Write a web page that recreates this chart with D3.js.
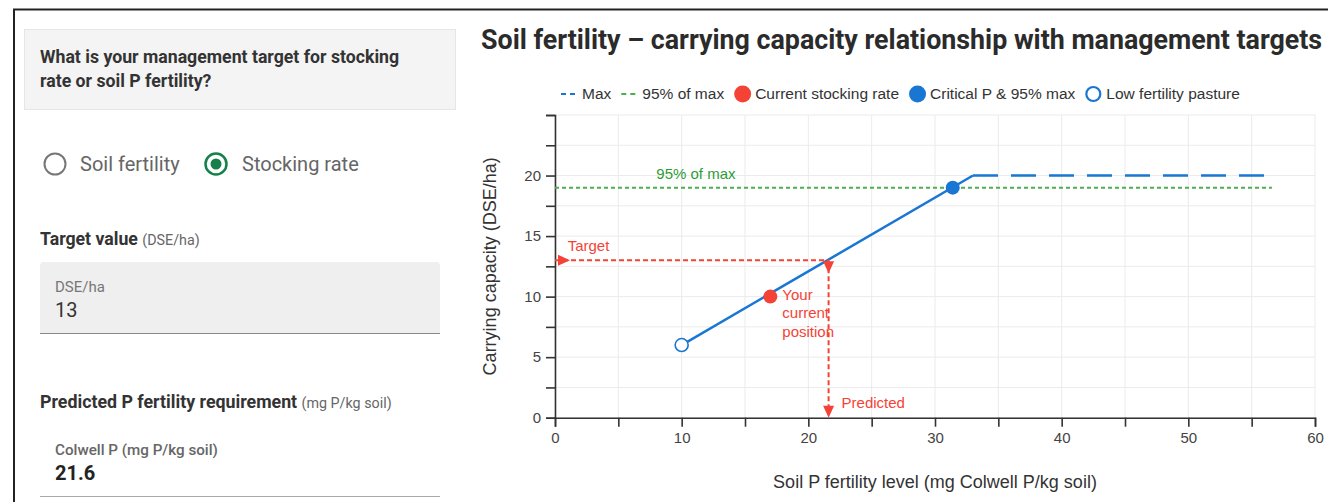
<!DOCTYPE html>
<html>
<head>
<meta charset="utf-8">
<script src="https://cdn.jsdelivr.net/npm/d3@7"></script>
<style>
html, body { margin: 0; padding: 0; background: #fff; }
svg { display: block; }
.ui text { font-family: Roboto, "Noto Sans", sans-serif; }
.chart text { font-family: "Liberation Sans", Arial, sans-serif; }
</style>
</head>
<body>
<svg id="page" width="1328" height="502"></svg>
<script>
// Response curve: Colwell P (mg/kg) vs carrying capacity (DSE/ha)
var responseP = [10, 33];
var responseCap = [6, 20];
var maxP = [33, 56];
var maxCap = [20, 20];
var p95P = [0, 56.6];
var p95Cap = [19, 19];
var currentPoint = [17, 10];
var criticalPoint = [31.4, 19];
var lowFertPoint = [10, 6];
var targetCap = 13;
var predictedP = 21.6;

var xTicks = d3.range(0, 61, 5);
var xLabels = [0, 10, 20, 30, 40, 50, 60];
var yTicks = d3.range(0, 25.1, 2.5);
var yLabels = [0, 5, 10, 15, 20];

var legendNames = ["Max", "95% of max", "Current stocking rate", "Critical P & 95% max", "Low fertility pasture"];
var legendKinds = ["dashBlue", "dashGreen", "dotRed", "dotBlue", "ring"];

var BLUE = "#1976d2", GREEN = "#4caf50", GREEN_TEXT = "#2e9c38", RED = "#f44336";

var svg = d3.select("#page");

// outer card border (top and left edge)
svg.append("path")
    .attr("d", "M14,502 L14,9.5 L1328,9.5")
    .attr("fill", "none").attr("stroke", "#222").attr("stroke-width", 2);

// ---------- left form panel ----------
var ui = svg.append("g").attr("class", "ui");

ui.append("rect")
    .attr("x", 24.5).attr("y", 29.5).attr("width", 431).attr("height", 80)
    .attr("fill", "#f4f4f4").attr("stroke", "#e6e6e6");
ui.append("text").attr("x", 40).attr("y", 63)
    .attr("font-size", 17.7).attr("font-weight", 700).attr("fill", "#333")
    .text("What is your management target for stocking");
ui.append("text").attr("x", 40).attr("y", 87)
    .attr("font-size", 17.7).attr("font-weight", 700).attr("fill", "#333")
    .text("rate or soil P fertility?");

// radio buttons
ui.append("circle").attr("cx", 55).attr("cy", 164).attr("r", 10.5)
    .attr("fill", "#fff").attr("stroke", "#777").attr("stroke-width", 2);
ui.append("text").attr("x", 80).attr("y", 171)
    .attr("font-size", 20).attr("fill", "#666").text("Soil fertility");
ui.append("circle").attr("cx", 216).attr("cy", 164).attr("r", 10.5)
    .attr("fill", "#fff").attr("stroke", "#17804a").attr("stroke-width", 2.5);
ui.append("circle").attr("cx", 216).attr("cy", 164).attr("r", 5.5)
    .attr("fill", "#17804a");
ui.append("text").attr("x", 242).attr("y", 171)
    .attr("font-size", 20).attr("fill", "#666").text("Stocking rate");

// target value field
var tv = ui.append("text").attr("x", 40).attr("y", 245).attr("fill", "#333");
tv.append("tspan").attr("font-size", 17.7).attr("font-weight", 700).text("Target value ");
tv.append("tspan").attr("font-size", 14.3).attr("fill", "#666").text("(DSE/ha)");

ui.append("path")
    .attr("d", "M40,333 L40,266 Q40,262 44,262 L436,262 Q440,262 440,266 L440,333 Z")
    .attr("fill", "#efefef");
ui.append("line").attr("x1", 40).attr("x2", 440).attr("y1", 333.5).attr("y2", 333.5)
    .attr("stroke", "#8a8a8a").attr("stroke-width", 1.2);
ui.append("text").attr("x", 55).attr("y", 292)
    .attr("font-size", 15).attr("fill", "#777").text("DSE/ha");
ui.append("text").attr("x", 55).attr("y", 317)
    .attr("font-size", 20).attr("fill", "#333").text(targetCap);

// predicted requirement field
var pr = ui.append("text").attr("x", 40).attr("y", 408).attr("fill", "#333");
pr.append("tspan").attr("font-size", 17.8).attr("font-weight", 700).text("Predicted P fertility requirement ");
pr.append("tspan").attr("font-size", 14.3).attr("fill", "#666").text("(mg P/kg soil)");

ui.append("text").attr("x", 55).attr("y", 455)
    .attr("font-size", 15.2).attr("font-weight", 500).attr("fill", "#666")
    .text("Colwell P (mg P/kg soil)");
ui.append("text").attr("x", 55).attr("y", 480)
    .attr("font-size", 20).attr("font-weight", 700).attr("fill", "#222").text(predictedP);
ui.append("line").attr("x1", 40).attr("x2", 440).attr("y1", 496.5).attr("y2", 496.5)
    .attr("stroke", "#a8a8a8").attr("stroke-width", 1);

// ---------- chart ----------
svg.append("text")
    .attr("x", 481).attr("y", 49)
    .attr("font-family", "Roboto, 'Noto Sans', sans-serif")
    .attr("font-size", 26.8).attr("font-weight", 700).attr("fill", "#2b2b2b")
    .text("Soil fertility \u2013 carrying capacity relationship with management targets");

var chart = svg.append("g").attr("class", "chart");

var x = d3.scaleLinear().domain([0, 60]).range([555, 1315]);
var y = d3.scaleLinear().domain([0, 25]).range([417.7, 115]);

// gridlines
chart.append("g").selectAll("line").data(xTicks).join("line")
    .attr("x1", function (d) { return x(d); }).attr("x2", function (d) { return x(d); })
    .attr("y1", y(0)).attr("y2", y(25))
    .attr("stroke", "#ebebeb").attr("stroke-width", 1);
chart.append("g").selectAll("line").data(yTicks).join("line")
    .attr("x1", x(0)).attr("x2", x(60))
    .attr("y1", function (d) { return y(d); }).attr("y2", function (d) { return y(d); })
    .attr("stroke", "#ebebeb").attr("stroke-width", 1);

// axes
var xAxis = d3.axisBottom(x).tickValues(xTicks).tickSize(9).tickPadding(6)
    .tickFormat(function (d) { return xLabels.indexOf(d) >= 0 ? d : ""; });
var yAxis = d3.axisLeft(y).tickValues(yTicks).tickSize(9).tickPadding(5)
    .tickFormat(function (d) { return yLabels.indexOf(d) >= 0 ? d : ""; });

var gx = chart.append("g").attr("transform", "translate(0," + y(0) + ")").call(xAxis);
var gy = chart.append("g").attr("transform", "translate(" + x(0) + ",0)").call(yAxis);
[gx, gy].forEach(function (g) {
    g.select(".domain").attr("stroke", "#333").attr("stroke-width", 1.6);
    g.selectAll(".tick line").attr("stroke", "#333").attr("stroke-width", 1.6);
    g.selectAll(".tick text").attr("font-size", 15).attr("fill", "#444")
        .attr("font-family", "'Liberation Sans', Arial, sans-serif");
});

chart.append("text")
    .attr("x", (x(0) + x(60)) / 2).attr("y", 488)
    .attr("text-anchor", "middle").attr("font-size", 18).attr("fill", "#333")
    .text("Soil P fertility level (mg Colwell P/kg soil)");
chart.append("text")
    .attr("transform", "translate(496," + (y(0) + y(25)) / 2 + ") rotate(-90)")
    .attr("text-anchor", "middle").attr("font-size", 18).attr("fill", "#333")
    .text("Carrying capacity (DSE/ha)");

// 95% of max
chart.append("line")
    .attr("x1", x(p95P[0])).attr("x2", x(p95P[1]))
    .attr("y1", y(p95Cap[0])).attr("y2", y(p95Cap[1]))
    .attr("stroke", GREEN).attr("stroke-width", 2).attr("stroke-dasharray", "4,3");
chart.append("text").attr("x", x(8)).attr("y", y(p95Cap[0]) - 9)
    .attr("font-size", 15).attr("fill", GREEN_TEXT).text("95% of max");

// response curve and max plateau
var line = d3.line().x(function (d) { return x(d[0]); }).y(function (d) { return y(d[1]); });
chart.append("path")
    .datum(d3.zip(responseP, responseCap))
    .attr("d", line).attr("fill", "none")
    .attr("stroke", BLUE).attr("stroke-width", 2.5);
chart.append("path")
    .datum(d3.zip(maxP, maxCap))
    .attr("d", line).attr("fill", "none")
    .attr("stroke", BLUE).attr("stroke-width", 2.5).attr("stroke-dasharray", "25,13");

// target / predicted guides
var guide = chart.append("g").attr("stroke", RED).attr("stroke-width", 2).attr("stroke-dasharray", "5,3");
guide.append("line")
    .attr("x1", x(0)).attr("x2", x(predictedP))
    .attr("y1", y(targetCap)).attr("y2", y(targetCap));
guide.append("line")
    .attr("x1", x(predictedP)).attr("x2", x(predictedP))
    .attr("y1", y(targetCap)).attr("y2", y(0) - 8);

function triangle(tipX, tipY, dir) {
    // dir: "right" or "down"; 12px long, 11px wide
    if (dir === "right")
        return "M" + tipX + "," + tipY + " L" + (tipX - 12) + "," + (tipY - 5.5) + " L" + (tipX - 12) + "," + (tipY + 5.5) + " Z";
    return "M" + tipX + "," + tipY + " L" + (tipX - 5.5) + "," + (tipY - 12) + " L" + (tipX + 5.5) + "," + (tipY - 12) + " Z";
}
chart.append("path").attr("d", triangle(x(0) + 15, y(targetCap), "right")).attr("fill", RED);
chart.append("path").attr("d", triangle(x(predictedP), y(targetCap) + 13, "down")).attr("fill", RED);
chart.append("path").attr("d", triangle(x(predictedP), y(0), "down")).attr("fill", RED);

chart.append("text").attr("x", x(1)).attr("y", y(targetCap) - 9)
    .attr("font-size", 15).attr("fill", RED).text("Target");
chart.append("text").attr("x", x(predictedP) + 13).attr("y", y(0) - 10)
    .attr("font-size", 15).attr("fill", RED).text("Predicted");
var yc = chart.append("text").attr("x", x(currentPoint[0]) + 12).attr("y", y(currentPoint[1]) + 3)
    .attr("font-size", 15).attr("fill", RED);
["Your", "current", "position"].forEach(function (w, i) {
    yc.append("tspan").attr("x", x(currentPoint[0]) + 12).attr("dy", i === 0 ? 0 : 18.5).text(w);
});

// points
chart.append("circle").attr("cx", x(lowFertPoint[0])).attr("cy", y(lowFertPoint[1])).attr("r", 6.5)
    .attr("fill", "#fff").attr("stroke", BLUE).attr("stroke-width", 1.6);
chart.append("circle").attr("cx", x(currentPoint[0])).attr("cy", y(currentPoint[1])).attr("r", 7)
    .attr("fill", RED);
chart.append("circle").attr("cx", x(criticalPoint[0])).attr("cy", y(criticalPoint[1])).attr("r", 7)
    .attr("fill", BLUE);

// legend
var legend = chart.append("g").attr("transform", "translate(561,94)");
var lx = 0;
legendNames.forEach(function (name, i) {
    var kind = legendKinds[i];
    var g = legend.append("g").attr("transform", "translate(" + lx + ",0)");
    var symW;
    if (kind === "dashBlue" || kind === "dashGreen") {
        g.append("line").attr("x1", 0).attr("x2", 16).attr("y1", 0).attr("y2", 0)
            .attr("stroke", kind === "dashBlue" ? BLUE : GREEN).attr("stroke-width", 2)
            .attr("stroke-dasharray", "5,4");
        symW = 21;
    } else if (kind === "ring") {
        g.append("circle").attr("cx", 8).attr("cy", 0).attr("r", 7)
            .attr("fill", "#fff").attr("stroke", BLUE).attr("stroke-width", 2.2);
        symW = 21;
    } else {
        g.append("circle").attr("cx", 8.5).attr("cy", 0).attr("r", 8.5)
            .attr("fill", kind === "dotRed" ? RED : BLUE);
        symW = 21;
    }
    var t = g.append("text").attr("x", symW).attr("y", 5)
        .attr("font-size", 15.5).attr("fill", "#333").text(name);
    lx += symW + t.node().getComputedTextLength() + 10;
});
</script>
</body>
</html>
